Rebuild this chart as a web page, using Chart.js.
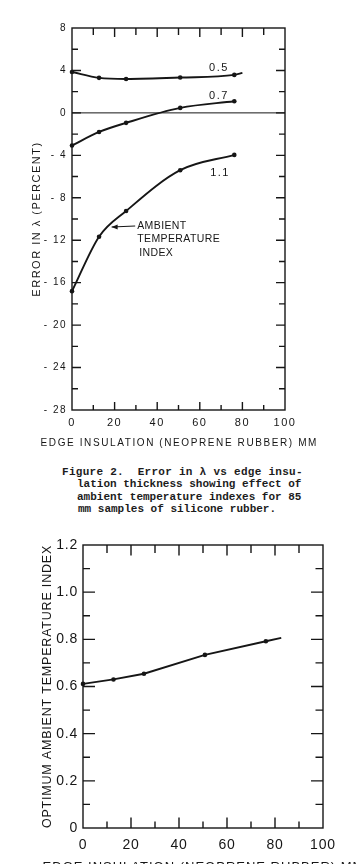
<!DOCTYPE html>
<html><head><meta charset="utf-8">
<script src="https://cdn.jsdelivr.net/npm/chart.js@4.4.1/dist/chart.umd.min.js"></script>
<style>
html,body{margin:0;padding:0;background:#fff}
body{width:359px;height:864px;overflow:hidden;position:relative}
canvas{position:absolute;left:0}
#c1{top:0}
#c2{top:530px}
.cap{position:absolute;margin:0;font-family:"Liberation Mono","Courier New",monospace;font-weight:bold;font-size:11px;line-height:12.5px;color:#1c1c1c;white-space:pre}
</style></head><body>
<canvas id="c1" width="359" height="460"></canvas>
<div class="cap" style="left:62px;top:465.5px;letter-spacing:0.28px">Figure 2.  Error in λ vs edge insu-</div>
<div class="cap" style="left:77px;top:477.5px">lation thickness showing effect of</div>
<div class="cap" style="left:77px;top:490.5px">ambient temperature indexes for 85</div>
<div class="cap" style="left:78px;top:502.5px">mm samples of silicone rubber.</div>
<canvas id="c2" width="359" height="345"></canvas>
<script>
// ---------- data ----------
const edgeTicks = [0, 20, 40, 60, 80, 100];                    // x tick labels (mm)
const errTicks  = [8, 4, 0, -4, -8, -12, -16, -20, -24, -28];   // y tick labels, top chart
const optTicks  = [0, 0.2, 0.4, 0.6, 0.8, 1.0, 1.2];            // y tick labels, bottom chart
const seriesNames = ['0.5', '0.7', '1.1'];                      // ambient temperature index
const edgeMM  = [0, 12.7, 25.4, 50.8, 76.2];                    // measured edge insulation (mm)
const edge05  = [0, 12.7, 25.4, 50.8, 76.2, 80];                // curve for 0.5 runs a bit past last point
const err05   = [3.85, 3.3, 3.2, 3.33, 3.58, 3.77];
const err07   = [-3.08, -1.8, -0.94, 0.47, 1.1];
const err11   = [-16.8, -11.67, -9.25, -5.4, -3.96];
const edgeOpt = [0, 12.7, 25.4, 50.8, 76.2, 82.6];              // line runs a bit past last point
const optIndex = [0.611, 0.630, 0.654, 0.734, 0.792, 0.806];
const xTitleText = 'EDGE INSULATION (NEOPRENE RUBBER) MM';

// ---------- style ----------
const INK = '#161616';
const SANS = '"Liberation Sans", Arial, sans-serif';
const pts = (xs, ys) => xs.map((x, i) => ({x, y: ys[i]}));
const markR = c => (c.dataIndex < edgeMM.length ? 2.3 : 0);

const spacing = s => ({
  id: 'spacing',
  beforeLayout(c) { c.ctx.letterSpacing = s; },
  beforeDraw(c) { c.ctx.letterSpacing = s; }
});

// x-axis title drawn without Chart.js's maxWidth squeeze
const xTitle = (text, size, sp, yPx) => ({
  id: 'xTitle',
  afterDraw(chart) {
    const {ctx, chartArea: {left, right}} = chart;
    ctx.save();
    ctx.letterSpacing = sp;
    ctx.font = `${size}px ${SANS}`;
    ctx.fillStyle = INK;
    ctx.textAlign = 'center'; ctx.textBaseline = 'middle';
    ctx.fillText(text, (left + right) / 2 + parseFloat(sp) / 2, yPx);
    ctx.restore();
  }
});

function frameTicks(o) {
  return {
    id: 'frameTicks',
    afterDatasetsDraw(chart) {
      const {ctx, chartArea: {left, right, top, bottom}, scales: {x, y}} = chart;
      ctx.save();
      ctx.strokeStyle = INK;
      ctx.lineWidth = 1.4;
      ctx.strokeRect(left, top, right - left, bottom - top);
      ctx.beginPath();
      const nx = Math.round((x.max - x.min) / o.xStep);
      for (let i = 1; i < nx; i++) {
        const px = x.getPixelForValue(x.min + i * o.xStep);
        const maj = i % o.xEvery === 0;
        const lb = maj ? o.bottom[0] : o.bottom[1];
        const lt = maj ? o.top[0] : o.top[1];
        ctx.moveTo(px, bottom); ctx.lineTo(px, bottom - lb);
        ctx.moveTo(px, top); ctx.lineTo(px, top + lt);
      }
      const ny = Math.round((y.max - y.min) / o.yStep);
      for (let i = 1; i < ny; i++) {
        const py = y.getPixelForValue(y.min + i * o.yStep);
        const maj = i % o.yEvery === 0;
        const ll = maj ? o.left[0] : o.left[1];
        const lr = maj ? o.right[0] : o.right[1];
        ctx.moveTo(left, py); ctx.lineTo(left + ll, py);
        ctx.moveTo(right, py); ctx.lineTo(right - lr, py);
      }
      ctx.stroke();
      ctx.restore();
    }
  };
}

const annot = {
  id: 'annot',
  afterDatasetsDraw(chart) {
    const {ctx, chartArea: {left, right}, scales: {x, y}} = chart;
    ctx.save();
    ctx.strokeStyle = INK; ctx.fillStyle = INK;
    // zero line
    const y0 = y.getPixelForValue(0);
    ctx.lineWidth = 1;
    ctx.beginPath(); ctx.moveTo(left, y0); ctx.lineTo(right, y0); ctx.stroke();
    // series labels
    const labelAt = [[69, 4.25], [69, 1.6], [69.5, -5.66]];
    ctx.letterSpacing = '1.5px';
    ctx.font = `11px ${SANS}`;
    ctx.textAlign = 'center'; ctx.textBaseline = 'middle';
    seriesNames.forEach((t, i) => ctx.fillText(t, x.getPixelForValue(labelAt[i][0]), y.getPixelForValue(labelAt[i][1])));
    // "AMBIENT TEMPERATURE INDEX" callout
    ctx.letterSpacing = '0.4px';
    ctx.font = `10.5px ${SANS}`;
    ctx.textAlign = 'left';
    const tx = x.getPixelForValue(30.6), ty = y.getPixelForValue(-10.66);
    ['AMBIENT', 'TEMPERATURE', 'INDEX'].forEach((t, i) => ctx.fillText(t, tx + (i === 2 ? 2 : 0), ty + i * 13.5));
    const ax = x.getPixelForValue(18.6), ay = y.getPixelForValue(-10.75);
    ctx.lineWidth = 1.1;
    ctx.beginPath(); ctx.moveTo(tx - 2, ty); ctx.lineTo(ax, ay); ctx.stroke();
    ctx.beginPath(); ctx.moveTo(ax, ay); ctx.lineTo(ax + 6, ay - 2.5); ctx.lineTo(ax + 6, ay + 2.5); ctx.closePath(); ctx.fill();
    ctx.restore();
  }
};

const lineDs = (data, smooth) => ({
  data, borderColor: INK, borderWidth: 1.9, backgroundColor: INK,
  pointRadius: markR, pointBackgroundColor: INK, pointBorderWidth: 0,
  cubicInterpolationMode: smooth ? 'monotone' : 'default', tension: 0, clip: 6
});

// ---------- top chart ----------
new Chart(document.getElementById('c1'), {
  type: 'scatter',
  data: {
    datasets: [
      Object.assign(lineDs(pts(edge05, err05), true), {label: seriesNames[0], showLine: true}),
      Object.assign(lineDs(pts(edgeMM, err07), true), {label: seriesNames[1], showLine: true}),
      Object.assign(lineDs(pts(edgeMM, err11), true), {label: seriesNames[2], showLine: true})
    ]
  },
  options: {
    responsive: false, animation: false, events: [],
    layout: {padding: {top: 28, right: 74, left: 0, bottom: 0}},
    plugins: {legend: {display: false}, tooltip: {enabled: false}},
    scales: {
      x: {
        type: 'linear', position: 'bottom', min: 0, max: 100,
        afterFit: s => { s.height = 50; },
        grid: {display: false, drawTicks: false}, border: {display: false},
        ticks: {stepSize: 20, padding: 6, color: INK, maxRotation: 0, autoSkip: false,
                font: {family: SANS, size: 11},
                callback: v => edgeTicks.includes(v) ? String(v) : ''},
        title: {display: false, text: xTitleText}
      },
      y: {
        type: 'linear', position: 'left', min: -28, max: 8,
        afterFit: s => { s.width = 72; },
        grid: {display: false, drawTicks: false}, border: {display: false},
        ticks: {stepSize: 2, padding: 5, color: INK, autoSkip: false,
                font: {family: SANS, size: 10},
                callback: v => errTicks.includes(v) ? (v < 0 ? '- ' + (-v) : String(v)) : ''},
        title: {display: true, text: 'ERROR IN λ (PERCENT)', color: INK,
                font: {family: SANS, size: 11}, padding: {top: 30, bottom: 0}}
      }
    }
  },
  plugins: [spacing('1.5px'),
            frameTicks({xStep: 10, xEvery: 2, yStep: 2, yEvery: 2,
                        left: [9, 6], right: [9, 6], top: [9, 7], bottom: [8, 5]}),
            annot,
            xTitle(xTitleText, 10, '1.6px', 443)]
});

// ---------- bottom chart ----------
new Chart(document.getElementById('c2'), {
  type: 'scatter',
  data: {
    datasets: [Object.assign(lineDs(pts(edgeOpt, optIndex), false),
                             {label: 'Optimum ambient temperature index', showLine: true})]
  },
  options: {
    responsive: false, animation: false, events: [],
    layout: {padding: {top: 15, right: 36, left: 0, bottom: 0}},
    plugins: {legend: {display: false}, tooltip: {enabled: false}},
    scales: {
      x: {
        type: 'linear', position: 'bottom', min: 0, max: 100,
        afterFit: s => { s.height = 47; },
        grid: {display: false, drawTicks: false}, border: {display: false},
        ticks: {stepSize: 20, padding: 9, color: INK, maxRotation: 0, autoSkip: false,
                font: {family: SANS, size: 14},
                callback: v => edgeTicks.includes(v) ? String(v) : ''},
        title: {display: false, text: xTitleText}
      },
      y: {
        type: 'linear', position: 'left', min: 0, max: 1.2,
        afterFit: s => { s.width = 83; },
        grid: {display: false, drawTicks: false}, border: {display: false},
        ticks: {stepSize: 0.1, padding: 5, color: INK, autoSkip: false,
                font: {family: SANS, size: 14},
                callback: v => {
                  const hit = optTicks.find(t => Math.abs(t - v) < 1e-6);
                  return hit === undefined ? '' : (hit === 0 ? '0' : hit.toFixed(1));
                }},
        title: {display: true, text: 'OPTIMUM AMBIENT TEMPERATURE INDEX', color: INK,
                font: {family: SANS, size: 12.5}, padding: {top: 40, bottom: 0}}
      }
    }
  },
  plugins: [spacing('0.8px'),
            frameTicks({xStep: 10, xEvery: 2, yStep: 0.1, yEvery: 2,
                        left: [12, 7], right: [12, 7.5], top: [10.5, 8], bottom: [10.5, 6.5]}),
            xTitle(xTitleText, 13, '1px', 337)]
});
</script>
</body></html>
